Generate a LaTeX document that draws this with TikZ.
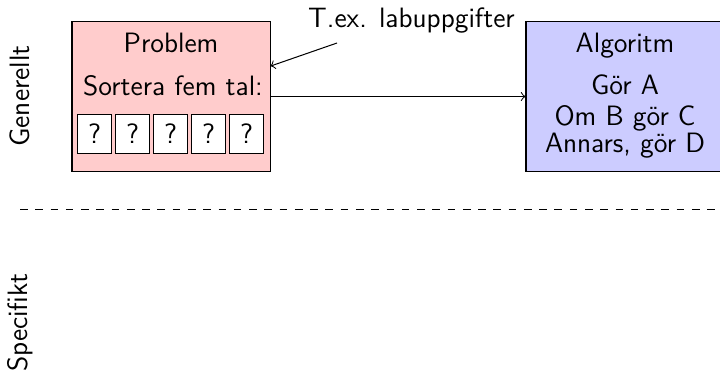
\documentclass[tikz,border=0pt]{standalone}
\begin{document}
\begin{tikzpicture}[x=0.3929pt,y=-0.3929pt,
  font=\fontsize{11}{13.2}\selectfont\sffamily,
  bigbox/.style={draw=black, line width=0.4pt, minimum width=77.8pt, minimum height=59.3pt, inner sep=0pt},
  qbox/.style={draw=black, fill=white, line width=0.4pt, minimum width=13.36pt, minimum height=15.7pt, inner sep=0pt},
  txt/.style={anchor=base, inner sep=0pt},
  side/.style={rotate=90, inner sep=0pt},
  conn/.style={->, line width=0.4pt}]
\useasboundingbox (0,0) rectangle (720,375);
\clip (0,0) rectangle (720,375);
% boxes
\node[bigbox, fill=red!20] (prob) at (171,96.5) {};
\node[bigbox, fill=blue!20] (alg) at (625,96.5) {};
% problem contents
\node[txt] (probtitle) at (171,52) {Problem};
\node[txt] (sort) at (173,95) {Sortera fem tal:};
\node[qbox] (q1) at (94.5,134) {?};
\node[qbox] (q2) at (132.7,134) {?};
\node[qbox] (q3) at (170.7,134) {?};
\node[qbox] (q4) at (208.7,134) {?};
\node[qbox] (q5) at (246.7,134) {?};
% algorithm contents
\node[txt] (algtitle) at (625,52) {Algoritm};
\node[txt] (a1) at (625,94.5) {Gör A};
\node[txt] (a2) at (625,125) {Om B gör C};
\node[txt] (a3) at (625,152.7) {Annars, gör D};
% connectors
\draw[conn] (prob) -- (alg);
\node[txt] (tex) at (411.5,27) {T.ex. labuppgifter};
\coordinate (texfrom) at (337,43);
\draw[conn] (texfrom) -- (prob.17.6);
% side labels
\node[side] (gen) at (20,96) {Generellt};
\node[side] (spec) at (20,322.5) {Specifikt};
% divider
\coordinate (dl) at (20,209);
\coordinate (dr) at (722,209);
\draw[dashed, line width=0.4pt] (dl) -- (dr);
\end{tikzpicture}
\end{document}
